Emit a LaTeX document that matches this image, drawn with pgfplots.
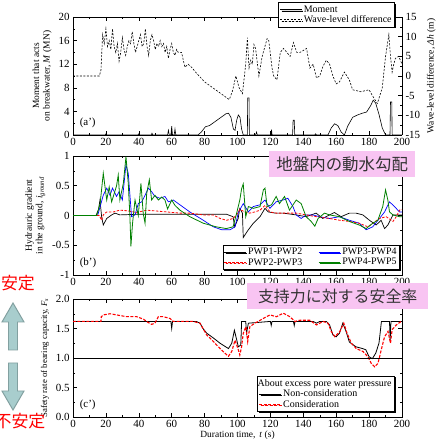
\documentclass[border=0pt]{standalone}
\usepackage{pgfplots}
\pgfplotsset{compat=1.18}
\usepackage{fontspec}
\setmainfont{Liberation Serif}
\newfontfamily\jp{Noto Sans CJK JP}
\usetikzlibrary{shadows}
\definecolor{pinkbox}{RGB}{248,196,242}
\definecolor{arrfill}{RGB}{168,205,205}
\definecolor{arrdraw}{RGB}{130,160,160}
\definecolor{dgreen}{RGB}{0,128,0}
\pgfplotsset{myax/.style={
  scale only axis, width=329bp, anchor=south west,
  xmin=0, xmax=200, xtick={0,20,...,200}, minor x tick num=1,
  tick align=inside,
  tick label style={font=\fontsize{11}{12}\selectfont},
  label style={font=\fontsize{9.5}{10.5}\selectfont},
  /pgf/number format/assume math mode=true,
  major tick length=4pt, minor tick length=2pt,
  axis line style={line width=0.7pt},
  every tick/.style={black, line width=0.5pt},
  legend cell align=left,
  legend image code/.code={\draw[mark repeat=2,mark phase=2,#1] plot coordinates {(0cm,0cm) (0.75cm,0cm)};},
  legend style={font=\fontsize{10}{10.5}\selectfont, draw=black, fill=white, line width=0.6pt,
    inner sep=1.2pt, row sep=-2pt,
    drop shadow={shadow xshift=1.3pt, shadow yshift=-1.3pt, fill=black, opacity=1}},
}}
\begin{document}
\begin{tikzpicture}
\useasboundingbox (0,0) rectangle (437bp,447bp);
% ---------------- panel (a')
\begin{axis}[myax, at={(73bp,312bp)}, height=118bp,
  ymin=0, ymax=20, ytick={0,4,...,20}, minor y tick num=1,
  axis y line*=left,
  ylabel={Moment that acts\\on breakwater, \textit{M} (MN)},
  ylabel style={align=center},
  legend style={at={(0.979,1.127)}, anchor=north east},
]
\addplot[black, line width=0.6pt] coordinates {
(0,0)(19.5,0)(20,0.2)(20.5,0)(39.5,0)(40,0.2)(40.5,0)(47.5,0)(48,0.3)(48.5,0)
(57.5,0)(58,0.8)(58.5,0)(59.5,0)(60,1.5)(60.5,0)(61.5,0)(62,1.0)(62.5,0)
(76,0)(78,0.5)(80.5,1.4)(83,1.6)(86,2.2)(90,3.0)(93,3.6)(94.5,3.7)(96,3.0)
(97.5,1.0)(98.5,0.8)(99.5,2.5)(100.5,3.4)(101.5,3.0)(102.5,1.0)(103.5,0)
(106,0)(106.2,6.3)(107,6.3)(107.2,0)(111,0)(111.6,0.5)(112,0)(120.4,0)(120.7,0.9)(121,0)
(133.5,0)(133.8,2.5)(134.5,2.5)(134.8,0)(147,0)(147.5,0.2)(148,0)(155,0)(157,1.2)
(159,1.9)(161,1.6)(163,0.5)(165,0)(167,1.5)(170,3.0)(173,3.4)(176,3.7)(178.5,3.9)
(181,5.0)(182.5,5.9)(184,5.4)(186,3.5)(188,1.2)(190,0)(192.7,0)(193,5.6)(193.8,5.6)(194,0)(200,0)};
\addlegendentry{Moment}
\addlegendimage{black, dash pattern=on 2pt off 1.5pt, line width=0.6pt}
\addlegendentry{Wave-level difference}
\node[anchor=south west, font=\fontsize{11}{12}\selectfont] at (rel axis cs:0.01,0.03) {(a’)};
\end{axis}
\begin{axis}[myax, at={(73bp,312bp)}, height=118bp,
  ymin=-15, ymax=15, ytick={-15,-10,...,15}, minor y tick num=1,
  axis y line*=right, axis x line=none,
  ylabel={Wave-level difference, \textit{Δh} (m)},
]
\addplot[black, line width=0.6pt, dash pattern=on 2pt off 1.5pt] coordinates {
(0,0)(16,0)(17,1.5)(18,10.5)(19,8.25)(20,12)(21,7.5)(22,9)(23,6.75)(24,12)(25,7.5)
(26,6)(27,8.25)(28,3.75)(29,6)(30,9.75)(31,6.75)(32,5.25)(33,7.5)(34,9)(35,8.25)
(36,11.25)(37,8.25)(38,6)(39,7.5)(40,9)(41,10.5)(42,7.5)(43,8.25)(44,12)(45,7.5)
(46,5.25)(47,9)(48,10.5)(49,9)(50,6.75)(51,8.25)(52,7.5)(53,9)(54,7.5)(55,8.25)
(56,6)(57,7.5)(58,4.5)(59,6.75)(60,8.25)(61,6)(62,5.25)(63,6.75)(64,6)(66,6)
(68,2.25)(70,3)(72,2.25)(75,0.75)(80,-1.5)(85,-3)(90,-4.5)(95,-6)(97,-3.75)(99,0)
(101,-3)(103,-4.5)(105,3)(106,9.75)(107,2)(108,4)(109,3)(110,8)(111,7)(113,0)
(115,5)(118,9.5)(119,9)(121,2)(122,0)(124,-1)(126,6)(128,7)(130,6)(132,5)(134,8.5)
(136,6)(138,6)(140,6.5)(142,7)(144,2)(146,3)(148,-0.5)(150,0)(152,2.5)(154,4)
(156,3)(158,0)(160,-2)(162,-1.5)(165,1)(168,-1)(170,-3.5)(175,-4)(180,-3.5)
(182,-5)(185,-7)(188,-3)(190,5)(192,10.5)(193,5)(194,1)(195,3)(196,4.5)(198,5)(200,3)};
\end{axis}
% ---------------- panel (b')
\begin{axis}[myax, at={(73bp,172bp)}, height=119bp,
  ymin=-1, ymax=1, ytick={-1,-0.5,0,0.5,1}, minor y tick num=1,
  ylabel={Hydrauric gradient\\in the ground, \textit{i}\textsubscript{\textit{ground}}},
  ylabel style={align=center},
  legend columns=2,
  legend style={at={(0.994,0.042)}, anchor=south east, /tikz/every even column/.append style={column sep=14pt}},
]
\addplot[black, line width=0.7pt] coordinates {
(0,0)(14,0)(15.5,0.1)(16.4,0.26)(17.4,-0.02)(18.4,-0.16)(20.5,-0.05)(23.5,0.01)
(25.5,0.04)(28.5,0.01)(38.7,0.02)(60,0.02)(93.4,0.02)(97.3,-0.02)(98.3,-0.19)
(100.4,-0.05)(101.4,0.12)(103,0.04)(103.5,-0.37)(106.6,-0.24)(109.6,-0.13)
(113.7,-0.02)(116.7,0.12)(118.7,0.06)(122.8,0.04)(127.6,0.04)(135.7,0.01)
(141.7,-0.02)(147.8,0.04)(151.8,-0.05)(155.9,0.01)(158.9,0.05)(163,-0.02)(168,0.04)
(172,0.04)(176.2,0.01)(180.2,-0.08)(184.3,-0.16)(187.3,-0.08)(189.4,-0.22)
(191.4,-0.16)(194.5,0.01)(198.5,0.01)(200,0.01)};
\addlegendentry{PWP1-PWP2}
\addplot[blue, line width=0.7pt] coordinates {
(0,0)(15,0)(16.5,0.15)(18.4,0.34)(20.5,0.46)(22.5,0.34)(24,0.46)(26.5,0.32)(28,0.40)
(30,0.26)(32.2,0.85)(33.6,0.71)(35.6,-0.02)(37.7,0.01)(39.7,0.20)(41.8,0.23)
(43.8,0.34)(45.8,0.46)(47.8,0.40)(49.8,0.32)(52.9,0.29)(55.9,0.32)(58,0.23)(61,0.26)
(65,0.18)(71,0.06)(79.2,-0.08)(85.3,-0.19)(90.4,-0.24)(95.5,-0.24)(98.5,-0.19)
(100.6,0.06)(102.5,0.15)(103.5,0.20)(106.6,0.06)(109.6,0.15)(113.7,0.18)(116.7,0.26)
(119.7,0.12)(123.5,0.23)(127.6,0.26)(130.6,0.29)(133.7,0.15)(135.7,0.01)(138.7,-0.05)
(141.7,0.01)(145.8,0.01)(149.8,-0.02)(155.9,-0.05)(162,-0.02)(168,-0.08)(174,-0.13)
(178.2,-0.24)(182.2,-0.19)(186.3,-0.05)(189.4,0.06)(192.4,0.23)(195.4,0.15)
(198.5,0.06)(200,0.06)};
\addlegendentry{PWP3-PWP4}
\addplot[red, line width=0.8pt, dash pattern=on 2.5pt off 1.5pt] coordinates {
(0,0)(16,0)(17.4,-0.08)(18.4,0.01)(20.5,0.06)(24.5,0.06)(28.5,0.09)(32.6,0.08)
(38.7,0.05)(44.8,0.09)(48.8,0.08)(57,0.06)(65,0.04)(71,0.04)(79.2,0.01)(85.3,0.01)
(89.4,-0.05)(93.4,-0.08)(97.3,-0.05)(99.4,0.01)(101.4,0.10)(104.5,0.06)(107.5,0.04)
(110.6,0.06)(113.7,0.09)(116.7,0.17)(119.7,0.06)(123.5,0.04)(129.6,0.04)(135.7,0.04)
(141.7,0.01)(147.8,-0.02)(155.9,-0.05)(162,-0.08)(168,-0.10)(174,-0.13)(179.2,-0.19)
(182.2,-0.13)(186.3,-0.05)(190.4,-0.02)(194.5,-0.10)(196.5,-0.02)(198.5,0.09)(200,0.10)};
\addlegendentry{PWP2-PWP3}
\addplot[dgreen, line width=0.8pt] coordinates {
(0,0)(14.4,0)(16.5,0.2)(18.4,0.71)(20.5,0.26)(22,0.48)(23.5,0.23)(26.5,0.5)(27.5,0.68)
(28.5,0.26)(30.6,0.54)(32.2,0.99)(33.6,0.54)(34.6,-0.02)(35.2,-0.52)(36.2,-0.13)
(37.7,0.26)(39.7,0.0)(41.3,0.54)(42.7,0.03)(43.8,-0.13)(44.8,0.37)(46.4,0.60)
(47.8,0.26)(49.8,0.34)(51.9,0.26)(53.9,0.31)(55.9,0.26)(57.5,0.11)(60,0.26)(62,0.17)
(65,0.09)(71,-0.02)(79.2,-0.13)(87,-0.19)(93.2,-0.22)(97.3,-0.19)(99.4,0.03)
(101.4,0.26)(102.5,0.45)(103.5,0.53)(105,-0.02)(106.6,0.15)(109.6,0.12)(113.7,0.15)
(115.7,0.43)(116.7,0.46)(118,0.15)(120.7,0.18)(123.5,0.32)(125.5,0.20)(128.6,0.32)
(131.6,0.09)(135.7,0.26)(138.7,0.20)(141.7,-0.02)(144.8,-0.10)(147,-0.18)(149,-0.05)
(152.9,0.04)(155.9,0.01)(162,-0.02)(168,-0.10)(174,-0.16)(178.2,-0.22)(182.2,-0.13)
(185.3,-0.08)(188.3,0.15)(190,0.43)(191.4,0.26)(192.4,0.06)(194.5,0.01)(198.5,-0.02)(200,-0.02)};
\addlegendentry{PWP4-PWP5}
\node[anchor=south west, font=\fontsize{11}{12}\selectfont] at (rel axis cs:0.01,0.03) {(b’)};
\end{axis}
% ---------------- panel (c')
\begin{axis}[myax, at={(73bp,30bp)}, height=118bp,
  ymin=0, ymax=2, ytick={0,0.5,...,2}, minor y tick num=1,
  yticklabel style={/pgf/number format/.cd, fixed, fixed zerofill, precision=1},
  ylabel={Safety rate of bearing capacity, \textit{F}\textsubscript{\textit{s}}},
  ylabel style={font=\fontsize{8.8}{9}\selectfont},
  xlabel={Duration time,\, \textit{t} (s)},
  xlabel style={yshift=4pt},
  legend style={at={(0.979,0.042)}, anchor=south east},
]
\addlegendimage{empty legend}
\addlegendentry{\hspace*{-0.9cm}About excess pore water pressure}
\addplot[black, line width=0.8pt] coordinates {
(0,1.62)(59.5,1.62)(60,1.50)(60.5,1.62)(75,1.62)(77.2,1.59)(79,1.50)(81.3,1.42)
(85.3,1.34)(89.4,1.25)(94.5,1.16)(96.5,1.25)(98.1,1.47)(99.5,1.31)(100.5,1.19)
(102,1.22)(102.5,1.62)(105,1.62)(105.5,1.42)(106.6,1.59)(120,1.62)(120.5,1.55)
(121,1.62)(134,1.62)(134.5,1.55)(135,1.62)(146,1.62)(148,1.59)(150,1.62)(154,1.62)
(156,1.56)(158,1.39)(160,1.36)(162,1.42)(164,1.59)(166,1.45)(168,1.27)(172,1.19)
(176,1.16)(178,1.14)(180,1.02)(182,0.99)(184,1.08)(186,1.25)(187.5,1.62)(192.4,1.62)
(192.8,1.30)(193.3,1.62)(200,1.62)};
\addlegendentry{Non-consideration}
\addplot[red, line width=1.1pt, dash pattern=on 3pt off 1.5pt] coordinates {
(0,1.62)(17,1.62)(17.2,1.70)(18.4,1.73)(22.5,1.75)(26.5,1.73)(32.6,1.70)(38.7,1.70)
(42.7,1.66)(45.8,1.60)(47.8,1.57)(49.8,1.59)(51.9,1.70)(54.9,1.70)(59,1.67)(61,1.62)
(65,1.62)(73.1,1.62)(77.2,1.59)(81.3,1.39)(85.3,1.28)(89.4,1.16)(92.4,1.08)(94.5,1.03)
(96.5,1.11)(98.5,1.30)(100.5,1.14)(101.4,1.05)(102.5,1.19)(103.5,1.42)(105.1,1.53)
(106.2,1.28)(107.5,1.53)(110.5,1.59)(112.6,1.62)(115.6,1.67)(119.7,1.73)(123.7,1.70)
(127.8,1.76)(131.8,1.70)(134.9,1.62)(137.9,1.64)(144,1.64)(148,1.56)(152,1.62)
(155,1.59)(157,1.45)(159.2,1.36)(162.2,1.45)(164.6,1.59)(166.6,1.42)(169.2,1.25)
(172.2,1.16)(176.3,1.11)(179.3,1.02)(181.3,0.91)(183.4,0.85)(185.4,0.91)(187.4,1.14)
(189.4,1.36)(191.5,1.45)(193,1.25)(194,1.48)(196.5,1.56)(199.5,1.62)(200,1.62)};
\addlegendentry{Consideration}
\addplot[black, line width=0.8pt, forget plot] coordinates {(0,1)(200,1)};
\node[anchor=south west, font=\fontsize{11}{12}\selectfont] at (rel axis cs:0.01,0.03) {(c’)};
\end{axis}
% ---------------- annotations
\node[fill=pinkbox, minimum width=146bp, minimum height=26bp, inner sep=0pt, anchor=north west,
  text={rgb,255:red,50;green,50;blue,50}, font=\jp\fontsize{16.5}{17}\selectfont] at (269bp,296bp) {地盤内の動水勾配};
\node[fill=pinkbox, minimum width=181bp, minimum height=26bp, inner sep=0pt, anchor=north west,
  text={rgb,255:red,50;green,50;blue,50}, font=\jp\fontsize{16}{17}\selectfont] at (247bp,164bp) {支持力に対する安全率};
\node[text=red, font=\jp\fontsize{17}{18}\selectfont] at (18bp,164bp) {安定};
\node[text=red, font=\jp\fontsize{17}{18}\selectfont] at (20bp,26bp) {不安定};
\draw[fill=arrfill, draw=arrdraw, line width=1pt]
  (13bp,144bp) -- (24bp,125bp) -- (17.5bp,125bp) -- (17.5bp,97bp) -- (8.5bp,97bp) -- (8.5bp,125bp) -- (2bp,125bp) -- cycle;
\draw[fill=arrfill, draw=arrdraw, line width=1pt]
  (13bp,37bp) -- (24bp,56bp) -- (17.5bp,56bp) -- (17.5bp,84bp) -- (8.5bp,84bp) -- (8.5bp,56bp) -- (2bp,56bp) -- cycle;
\end{tikzpicture}
\end{document}
